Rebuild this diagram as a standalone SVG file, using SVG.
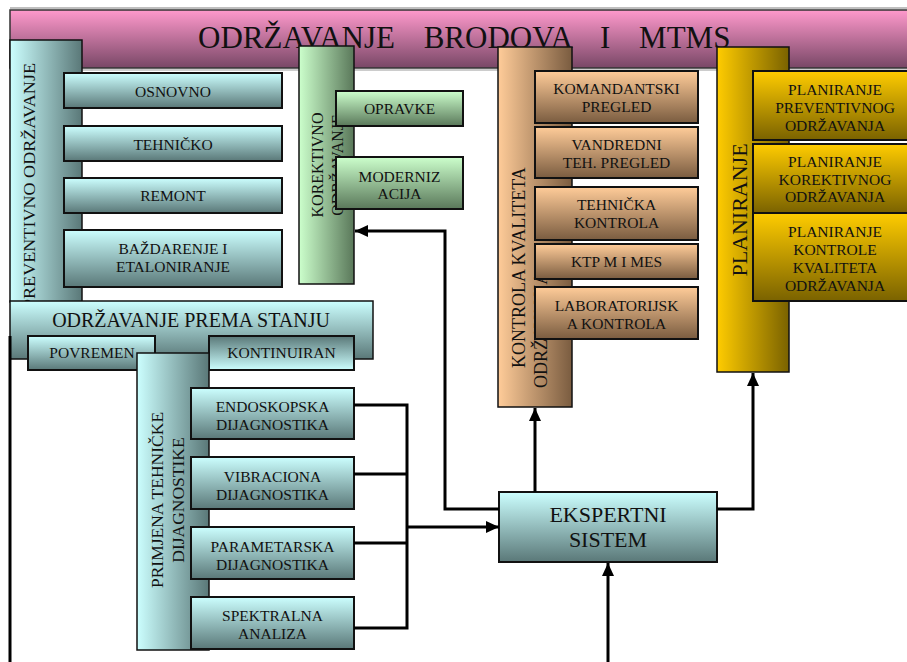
<svg xmlns="http://www.w3.org/2000/svg" width="907" height="662" viewBox="0 0 907 662">
<defs>
<linearGradient id="gPink" x1="0" y1="0" x2="0" y2="1"><stop offset="0" stop-color="#ff99cc"/><stop offset="1" stop-color="#784766"/></linearGradient>
<linearGradient id="gCyanH" x1="0" y1="0" x2="1" y2="0"><stop offset="0" stop-color="#ccffff"/><stop offset="1" stop-color="#5a7878"/></linearGradient>
<linearGradient id="gCyanV" x1="0" y1="0" x2="0" y2="1"><stop offset="0" stop-color="#ccffff"/><stop offset="1" stop-color="#5a7878"/></linearGradient>
<linearGradient id="gCyanVr" x1="0" y1="1" x2="0" y2="0"><stop offset="0" stop-color="#ccffff"/><stop offset="1" stop-color="#5a7878"/></linearGradient>
<linearGradient id="gGreenH" x1="0" y1="0" x2="1" y2="0"><stop offset="0" stop-color="#ccffcc"/><stop offset="1" stop-color="#5a785a"/></linearGradient>
<linearGradient id="gGreenV" x1="0" y1="0" x2="0" y2="1"><stop offset="0" stop-color="#ccffcc"/><stop offset="1" stop-color="#5a785a"/></linearGradient>
<linearGradient id="gPeachH" x1="0" y1="0" x2="1" y2="0"><stop offset="0" stop-color="#ffcc99"/><stop offset="1" stop-color="#7a5c40"/></linearGradient>
<linearGradient id="gPeachV" x1="0" y1="0" x2="0" y2="1"><stop offset="0" stop-color="#ffcc99"/><stop offset="1" stop-color="#7a5c40"/></linearGradient>
<linearGradient id="gGoldH" x1="0" y1="0" x2="1" y2="0"><stop offset="0" stop-color="#ffcc00"/><stop offset="1" stop-color="#7a6200"/></linearGradient>
<linearGradient id="gGoldV" x1="0" y1="0" x2="0" y2="1"><stop offset="0" stop-color="#ffcc00"/><stop offset="1" stop-color="#7a6200"/></linearGradient>
<marker id="arr" markerUnits="userSpaceOnUse" markerWidth="14" markerHeight="12" refX="13" refY="6" orient="auto"><path d="M0,0 L13,6 L0,12 Z" fill="#000"/></marker>
<style>
.col{stroke:#111;stroke-width:1.5}
.box{stroke:#111;stroke-width:2}
.t{font-family:"Liberation Serif","Times New Roman",serif;fill:#111;text-anchor:middle;font-size:15.5px}
.r{font-family:"Liberation Serif","Times New Roman",serif;fill:#111}
.conn{fill:none;stroke:#000;stroke-width:3}
</style>
</defs>
<rect width="907" height="662" fill="#fff"/>

<g id="banner">
<line x1="10" y1="8" x2="907" y2="8" stroke="#aaa" stroke-width="1.5"/>
<rect x="10" y="10" width="910" height="58" fill="url(#gPink)" stroke="#333" stroke-width="1.5"/>
<line x1="82" y1="70" x2="907" y2="70" stroke="#bbb" stroke-width="1.5"/>
<text class="r" x="198" y="47.5" font-size="31" word-spacing="21">ODRŽAVANJE BRODOVA I MTMS</text>
</g>

<g id="preventivno">
<rect class="col" x="10" y="40" width="72" height="262" fill="url(#gCyanH)"/>
<text class="r" font-size="17.5" textLength="246" lengthAdjust="spacingAndGlyphs" transform="translate(35,309) rotate(-90)">PREVENTIVNO  ODRŽAVANJE</text>
</g>
<g id="osnovno"><rect class="box" x="64" y="73" width="218" height="35" fill="url(#gCyanV)"/><text class="t" x="173" y="96.5">OSNOVNO</text></g>
<g id="tehnicko"><rect class="box" x="64" y="126" width="218" height="35" fill="url(#gCyanV)"/><text class="t" x="173" y="149.5">TEHNIČKO</text></g>
<g id="remont"><rect class="box" x="64" y="178" width="218" height="35" fill="url(#gCyanV)"/><text class="t" x="173" y="201">REMONT</text></g>
<g id="bazdarenje"><rect class="box" x="64" y="230" width="218" height="57" fill="url(#gCyanV)"/><text class="t" x="173" y="254">BAŽDARENJE I</text><text class="t" x="173" y="272">ETALONIRANJE</text></g>

<g id="korektivno">
<rect class="col" x="299" y="46" width="55" height="238" fill="url(#gGreenH)"/>
<text class="r" font-size="16" text-anchor="middle" transform="translate(323,165) rotate(-90)">KOREKTIVNO</text>
<text class="r" font-size="16" text-anchor="middle" transform="translate(343,165) rotate(-90)">ODRŽAVANJE</text>
</g>
<g id="opravke"><rect class="box" x="336" y="91" width="127" height="35" fill="url(#gGreenV)"/><text class="t" x="399.5" y="113.5">OPRAVKE</text></g>
<g id="modernizacija"><rect class="box" x="336" y="157" width="127" height="52" fill="url(#gGreenV)"/><text class="t" x="399.5" y="181.5">MODERNIZ</text><text class="t" x="399.5" y="198.5">ACIJA</text></g>

<g id="kontrola">
<rect class="col" x="498" y="47" width="74" height="360" fill="url(#gPeachH)"/>
<text class="r" font-size="18" transform="translate(525,368) rotate(-90)">KONTROLA  KVALITETA</text>
<text class="r" font-size="18" transform="translate(547,388) rotate(-90)">ODRŽAVANJA</text>
</g>
<g id="komandantski"><rect class="box" x="535" y="71" width="163" height="52" fill="url(#gPeachV)"/><text class="t" x="616.5" y="94">KOMANDANTSKI</text><text class="t" x="616.5" y="111.5">PREGLED</text></g>
<g id="vandredni"><rect class="box" x="535" y="127" width="163" height="51" fill="url(#gPeachV)"/><text class="t" x="616.5" y="150">VANDREDNI</text><text class="t" x="616.5" y="168">TEH. PREGLED</text></g>
<g id="tehnicka-kontrola"><rect class="box" x="535" y="187" width="163" height="53" fill="url(#gPeachV)"/><text class="t" x="616.5" y="210">TEHNIČKA</text><text class="t" x="616.5" y="228">KONTROLA</text></g>
<g id="ktp"><rect class="box" x="535" y="244" width="163" height="35" fill="url(#gPeachV)"/><text class="t" x="616.5" y="266.5">KTP M I MES</text></g>
<g id="laboratorijska"><rect class="box" x="535" y="287" width="163" height="52" fill="url(#gPeachV)"/><text class="t" x="616.5" y="310.5">LABORATORIJSK</text><text class="t" x="616.5" y="328.5">A KONTROLA</text></g>

<g id="planiranje">
<rect class="col" x="717" y="47" width="72" height="325" fill="url(#gGoldH)"/>
<text class="r" font-size="22" text-anchor="middle" transform="translate(747,210) rotate(-90)">PLANIRANJE</text>
</g>
<g id="plan-preventivnog"><rect class="box" x="753" y="71" width="170" height="69" fill="url(#gGoldV)"/><text class="t" x="835" y="95">PLANIRANJE</text><text class="t" x="835" y="113">PREVENTIVNOG</text><text class="t" x="835" y="131">ODRŽAVANJA</text></g>
<g id="plan-korektivnog"><rect class="box" x="753" y="144" width="170" height="69" fill="url(#gGoldV)"/><text class="t" x="835" y="167">PLANIRANJE</text><text class="t" x="835" y="184.5">KOREKTIVNOG</text><text class="t" x="835" y="202">ODRŽAVANJA</text></g>
<g id="plan-kontrole"><rect class="box" x="753" y="213" width="170" height="88" fill="url(#gGoldV)"/><text class="t" x="835" y="237">PLANIRANJE</text><text class="t" x="835" y="255">KONTROLE</text><text class="t" x="835" y="273">KVALITETA</text><text class="t" x="835" y="291">ODRŽAVANJA</text></g>

<g id="prema-stanju"><rect class="col" x="10" y="301" width="363" height="58" fill="url(#gCyanV)"/><text class="r" font-size="20" text-anchor="middle" x="191" y="327">ODRŽAVANJE PREMA STANJU</text></g>
<g id="povremen"><rect class="box" x="28" y="336" width="127" height="34" fill="url(#gCyanV)"/><text class="t" x="92" y="357.5">POVREMEN</text></g>
<g id="kontinuiran"><rect class="box" x="209" y="336" width="145" height="34" fill="url(#gCyanVr)"/><text class="t" x="281.5" y="357.5">KONTINUIRAN</text></g>

<g id="primjena">
<rect class="col" x="137" y="353" width="72" height="297" fill="url(#gCyanH)"/>
<text class="r" font-size="17.5" text-anchor="middle" transform="translate(163,500) rotate(-90)">PRIMJENA TEHNIČKE</text>
<text class="r" font-size="17.5" text-anchor="middle" transform="translate(184,500) rotate(-90)">DIJAGNOSTIKE</text>
</g>
<g id="endoskopska"><rect class="box" x="191" y="388" width="163" height="51" fill="url(#gCyanV)"/><text class="t" x="272.5" y="411.5">ENDOSKOPSKA</text><text class="t" x="272.5" y="429.5">DIJAGNOSTIKA</text></g>
<g id="vibraciona"><rect class="box" x="191" y="457" width="163" height="52" fill="url(#gCyanV)"/><text class="t" x="272.5" y="481.5">VIBRACIONA</text><text class="t" x="272.5" y="499.5">DIJAGNOSTIKA</text></g>
<g id="parametarska"><rect class="box" x="191" y="527" width="163" height="52" fill="url(#gCyanV)"/><text class="t" x="272.5" y="551.5">PARAMETARSKA</text><text class="t" x="272.5" y="569.5">DIJAGNOSTIKA</text></g>
<g id="spektralna"><rect class="box" x="191" y="597" width="163" height="52" fill="url(#gCyanV)"/><text class="t" x="272.5" y="621">SPEKTRALNA</text><text class="t" x="272.5" y="638.5">ANALIZA</text></g>

<g id="ekspertni"><rect class="box" x="499" y="492" width="218" height="70" fill="url(#gCyanV)"/><text class="r" font-size="22" text-anchor="middle" x="608" y="522">EKSPERTNI</text><text class="r" font-size="22" text-anchor="middle" x="608" y="547">SISTEM</text></g>

<g id="connectors">
<line class="conn" x1="10" y1="336" x2="10" y2="662"/>
<polyline class="conn" points="354,405 407,405 407,628 354,628"/>
<line class="conn" x1="354" y1="474" x2="407" y2="474"/>
<line class="conn" x1="354" y1="543" x2="407" y2="543"/>
<line class="conn" x1="407" y1="527" x2="499" y2="527" marker-end="url(#arr)"/>
<polyline class="conn" points="499,509 445,509 445,231 355,231" marker-end="url(#arr)"/>
<line class="conn" x1="535" y1="492" x2="535" y2="408" marker-end="url(#arr)"/>
<polyline class="conn" points="717,509 753,509 753,373" marker-end="url(#arr)"/>
<line class="conn" x1="608" y1="662" x2="608" y2="563" marker-end="url(#arr)"/>
</g>
</svg>
